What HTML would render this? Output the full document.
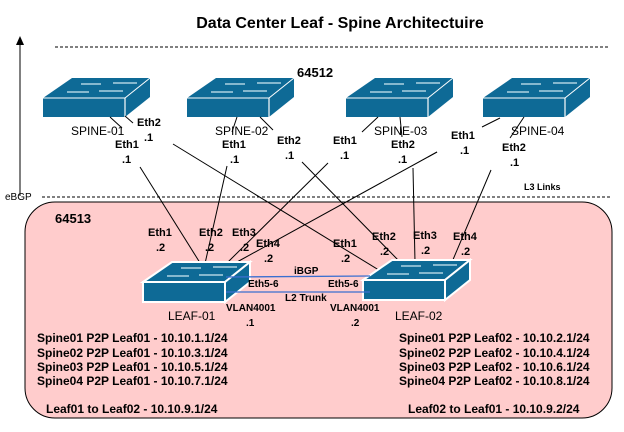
<!DOCTYPE html>
<html><head><meta charset="utf-8"><style>
html,body{margin:0;padding:0;background:#fff}
svg{display:block}
text{font-family:"Liberation Sans",Arial,sans-serif}
.b{font-weight:bold;font-size:11px}
.n{font-size:12px}
.s10{font-size:10px}
.big{font-size:12px}
</style></head><body>
<svg width="624" height="432" viewBox="0 0 624 432" xmlns="http://www.w3.org/2000/svg">
<defs>
<g id="sw">
  <polygon points="0,0 29,-20 107,-20 82,0" fill="#0e6a96"/>
  <rect x="0" y="0" width="82" height="19" fill="#0e6a96"/>
  <polygon points="82,0 107,-20 107,-1 82,19" fill="#0e6a96"/>
  <line x1="82" y1="0" x2="82" y2="19" stroke="#fff" stroke-width="1.2"/>
  <line x1="0" y1="0" x2="82" y2="0" stroke="#fff" stroke-width="1"/>
  <line x1="82" y1="0" x2="107" y2="-20" stroke="#fff" stroke-width="1"/>
  <g stroke="#cfe6f0" stroke-width="1.3" fill="none">
    <line x1="38" y1="-14" x2="58" y2="-14"/><line x1="70" y1="-15" x2="94" y2="-15"/>
    <line x1="24" y1="-6" x2="46" y2="-6"/><line x1="56" y1="-7" x2="80" y2="-7"/>
  </g>
</g>
<g id="lf">
  <polygon points="0,0 29,-20 107,-20 82,0" fill="#0e6a96" stroke="#fff" stroke-width="2"/>
  <rect x="0" y="0" width="82" height="20" fill="#0e6a96" stroke="#fff" stroke-width="2"/>
  <polygon points="82,0 107,-20 107,0 82,20" fill="#0e6a96" stroke="#fff" stroke-width="2"/>
  <g stroke="#cfe6f0" stroke-width="1.3" fill="none">
    <line x1="38" y1="-14" x2="58" y2="-14"/><line x1="70" y1="-15" x2="94" y2="-15"/>
    <line x1="24" y1="-6" x2="46" y2="-6"/><line x1="56" y1="-7" x2="80" y2="-7"/>
  </g>
</g>
</defs>

<text x="340" y="28" text-anchor="middle" font-weight="bold" style="font-size:16px">Data Center Leaf - Spine Architectuire</text>
<line x1="55" y1="47" x2="610" y2="47" stroke="#000" stroke-dasharray="3,2"/>
<text x="297" y="77" font-weight="bold" style="font-size:13px">64512</text>

<line x1="20" y1="196" x2="20" y2="42" stroke="#000"/>
<polygon points="20,36 16,45 24,45" fill="#000"/>
<text x="5" y="200" style="font-size:10px">eBGP</text>
<line x1="42" y1="197" x2="610" y2="197" stroke="#000" stroke-dasharray="3,2"/>
<text x="524" y="190" font-weight="bold" style="font-size:9px">L3 Links</text>

<rect x="25" y="202" width="587" height="216" rx="30" fill="#ffcccc" stroke="#000" stroke-width="1"/>
<text x="55" y="223" font-weight="bold" style="font-size:13px">64513</text>

<use href="#sw" x="43" y="98"/>
<use href="#sw" x="187" y="98"/>
<use href="#sw" x="346" y="98"/>
<use href="#sw" x="483" y="98"/>

<g stroke="#000" stroke-width="1" fill="none">
  <line x1="110" y1="117" x2="122" y2="128"/>
  <line x1="125" y1="116" x2="133" y2="123"/>
  <line x1="237" y1="117" x2="232" y2="132"/>
  <line x1="260" y1="117" x2="273" y2="130"/>
  <line x1="378" y1="117" x2="362" y2="132"/>
  <line x1="400" y1="117" x2="402" y2="137"/>
  <line x1="500" y1="118" x2="482" y2="127"/>
  <line x1="524" y1="117" x2="510" y2="138"/>

  <line x1="140" y1="167" x2="202" y2="266"/>
  <line x1="173" y1="144" x2="382" y2="272"/>
  <line x1="227" y1="166" x2="204" y2="268"/>
  <line x1="302" y1="162" x2="400" y2="262"/>
  <line x1="328" y1="163" x2="228" y2="262"/>
  <line x1="437" y1="152" x2="237" y2="262"/>
  <line x1="428" y1="157" x2="437" y2="152"/>
  <line x1="413" y1="168" x2="415" y2="262"/>
  <line x1="491" y1="170" x2="452" y2="262"/>
</g>

<use href="#lf" x="143" y="282"/>
<use href="#lf" x="363" y="280"/>

<line x1="226" y1="277" x2="370" y2="276" stroke="#3a6fd0" stroke-width="1.3"/>
<line x1="226" y1="292" x2="370" y2="292" stroke="#3a6fd0" stroke-width="1.3"/>

<text x="71" y="135" class="n">SPINE-01</text>
<text x="215" y="135" class="n">SPINE-02</text>
<text x="374" y="135" class="n">SPINE-03</text>
<text x="511" y="135" class="n">SPINE-04</text>
<text x="168" y="320" class="n">LEAF-01</text>
<text x="395" y="320" class="n">LEAF-02</text>

<g class="b">
<text x="137" y="126">Eth2</text><text x="144" y="141">.1</text>
<text x="115" y="148">Eth1</text><text x="122" y="163">.1</text>
<text x="222" y="148">Eth1</text><text x="230" y="163">.1</text>
<text x="277" y="144">Eth2</text><text x="285" y="159">.1</text>
<text x="333" y="144">Eth1</text><text x="340" y="159">.1</text>
<text x="391" y="148">Eth2</text><text x="398" y="163">.1</text>
<text x="451" y="139">Eth1</text><text x="460" y="154">.1</text>
<text x="502" y="151">Eth2</text><text x="510" y="166">.1</text>

<text x="148" y="236">Eth1</text><text x="156" y="251">.2</text>
<text x="199" y="236">Eth2</text><text x="205" y="251">.2</text>
<text x="232" y="236">Eth3</text><text x="240" y="251">.2</text>
<text x="256" y="247">Eth4</text><text x="264" y="262">.2</text>
<text x="333" y="247">Eth1</text><text x="341" y="262">.2</text>
<text x="372" y="240">Eth2</text><text x="380" y="255">.2</text>
<text x="413" y="239">Eth3</text><text x="421" y="254">.2</text>
<text x="453" y="240">Eth4</text><text x="461" y="255">.2</text>

<text x="294" y="274" class="s10">iBGP</text>
<text x="248" y="287" class="s10">Eth5-6</text>
<text x="328" y="287" class="s10">Eth5-6</text>
<text x="285" y="301" class="s10">L2 Trunk</text>
<text x="226" y="311" class="s10">VLAN4001</text><text x="246" y="326" class="s10">.1</text>
<text x="330" y="311" class="s10">VLAN4001</text><text x="351" y="326" class="s10">.2</text>
</g>

<g font-weight="bold" class="big">
<text x="37" y="342">Spine01 P2P Leaf01 - 10.10.1.1/24</text>
<text x="37" y="357">Spine02 P2P Leaf01 - 10.10.3.1/24</text>
<text x="37" y="371">Spine03 P2P Leaf01 - 10.10.5.1/24</text>
<text x="37" y="385">Spine04 P2P Leaf01 - 10.10.7.1/24</text>
<text x="399" y="342">Spine01 P2P Leaf02 - 10.10.2.1/24</text>
<text x="399" y="357">Spine02 P2P Leaf02 - 10.10.4.1/24</text>
<text x="399" y="371">Spine03 P2P Leaf02 - 10.10.6.1/24</text>
<text x="399" y="385">Spine04 P2P Leaf02 - 10.10.8.1/24</text>
<text x="46" y="413">Leaf01 to Leaf02 - 10.10.9.1/24</text>
<text x="408" y="413">Leaf02 to Leaf01 - 10.10.9.2/24</text>
</g>
</svg>
</body></html>
